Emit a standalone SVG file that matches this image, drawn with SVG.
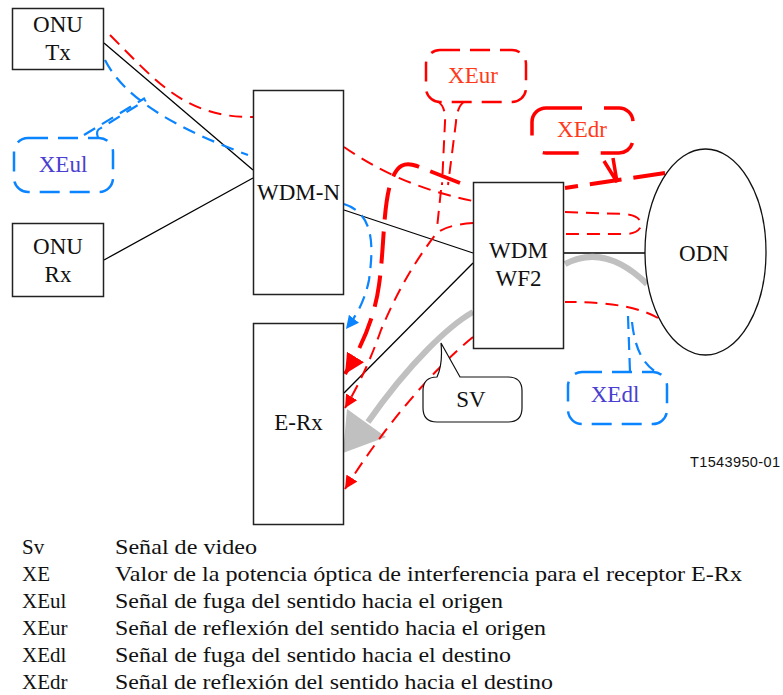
<svg xmlns="http://www.w3.org/2000/svg" width="783" height="695" viewBox="0 0 783 695">
<style>
.box{fill:#fff;stroke:#222;stroke-width:1.5}
.lbl{font-family:"Liberation Serif","Times New Roman",serif;font-size:23px;fill:#111;text-anchor:middle}
.clr{font-family:"Liberation Serif","Times New Roman",serif;font-size:23px;fill:#ff3a1a;text-anchor:middle}
.clb{font-family:"Liberation Serif","Times New Roman",serif;font-size:23px;fill:#4a3fd0;text-anchor:middle}
.leg{font-family:"Liberation Serif","Times New Roman",serif;font-size:21px;fill:#111}
.blk{fill:none;stroke:#000;stroke-width:1.3}
.rd{fill:none;stroke:#f00;stroke-width:2;stroke-dasharray:13 8}
.rdk{fill:none;stroke:#f00;stroke-width:4;stroke-dasharray:32 12}
.bd{fill:none;stroke:#0a84ff;stroke-width:2.2;stroke-dasharray:13 8}
.bcall{fill:#fff;stroke:#0a84ff;stroke-width:2.5;stroke-dasharray:20 10}
.rcall{fill:#fff;stroke:#f00;stroke-width:2.5;stroke-dasharray:20 10}
</style>
<defs>
<marker id="ar" viewBox="0 0 10 10" refX="10" refY="5" markerWidth="13" markerHeight="13" markerUnits="userSpaceOnUse" orient="auto"><path d="M0,0 L10,5 L0,10 z" fill="#f00"/></marker>
<marker id="arK" viewBox="0 0 10 10" refX="10" refY="5" markerWidth="20" markerHeight="20" markerUnits="userSpaceOnUse" orient="auto"><path d="M0,0 L10,5 L0,10 z" fill="#f00"/></marker>
<marker id="ab" viewBox="0 0 10 10" refX="10" refY="5" markerWidth="13" markerHeight="13" markerUnits="userSpaceOnUse" orient="auto"><path d="M0,0 L10,5 L0,10 z" fill="#0a84ff"/></marker>
</defs>

<g id="connectors">
  <!-- fibre links -->
  <path class="blk" d="M104,43 L253,170"/>
  <path class="blk" d="M104,260 L253,178"/>
  <path class="blk" d="M344,210 L473,253"/>
  <path class="blk" d="M473,263 L344,393"/>
  <path class="blk" d="M564,253 L645,253"/>
  <!-- video signal (grey) -->
  <path d="M565,264 Q605,243 647,284" fill="none" stroke="#c0c0c0" stroke-width="6"/>
  <path d="M473,312 C450,325 410,362 368,422" fill="none" stroke="#c0c0c0" stroke-width="6"/>
  <polygon points="347,409 386,437 343,453" fill="#c0c0c0"/>
  <!-- red thin paths -->
  <path class="rd" d="M110,35 C155,80 185,118 253,117"/>
  <path class="rd" d="M344,147 C380,172 420,190 473,201"/>
  <path class="rd" d="M565,212 L625,214 Q644,216 640,228 Q636,234 624,234 L565,234"/>
  <path class="rd" d="M473,223 Q445,225 436,234 Q404,275 381,330 Q366,373 345,408" marker-end="url(#ar)"/>
  <path class="rd" d="M658,318 C640,308 615,302 565,302"/>
  <path class="rd" d="M473,337 C430,372 382,430 345,489" marker-end="url(#ar)"/>
  <!-- red thick reflection path -->
  <path class="rdk" d="M665,173 L565,188" stroke-dasharray="60 8 100"/>
  <path class="rdk" d="M460,183 L417,166 C400,160 395,170 390,185 C383,210 384,250 379,285 C375,315 363,345 345,374" marker-end="url(#arK)"/>
  <!-- blue leak path -->
  <path class="bd" d="M105,60 C125,100 180,130 248,155"/>
  <path class="bd" d="M344,204 C376,214 373,250 369,280 C365,300 357,315 346,329" marker-end="url(#ab)"/>
</g>

<g id="onu-tx">
  <rect class="box" x="12.5" y="8.5" width="91" height="61"/>
  <text class="lbl" x="58" y="32">ONU</text>
  <text class="lbl" x="58" y="60">Tx</text>
</g>
<g id="onu-rx">
  <rect class="box" x="12.5" y="223.5" width="91" height="73"/>
  <text class="lbl" x="58" y="254">ONU</text>
  <text class="lbl" x="58" y="282">Rx</text>
</g>
<g id="wdm-n">
  <rect class="box" x="253.5" y="90.5" width="90" height="204"/>
  <text class="lbl" x="298.5" y="200">WDM-N</text>
</g>
<g id="e-rx">
  <rect class="box" x="253.5" y="323.5" width="90" height="201"/>
  <text class="lbl" x="298.5" y="430">E-Rx</text>
</g>
<g id="wdm-wf2">
  <rect class="box" x="473.5" y="182.5" width="90" height="166"/>
  <text class="lbl" x="518.5" y="258">WDM</text>
  <text class="lbl" x="518.5" y="286">WF2</text>
</g>
<g id="odn">
  <ellipse cx="705.5" cy="252" rx="60.5" ry="103" fill="#fff" stroke="#111" stroke-width="1.3"/>
  <text class="lbl" x="704" y="261">ODN</text>
</g>

<g id="callout-sv">
  <path d="M437,377 Q443,364 441,343 L460,377 L508,377 Q522,377 522,391 L522,408 Q522,422 508,422 L437,422 Q423,422 423,408 L423,391 Q423,377 437,377 Z" fill="#fff" stroke="#111" stroke-width="1.2"/>
  <text class="lbl" x="471" y="407">SV</text>
</g>
<g id="callout-xeul">
  <path class="bd" d="M84,135 L145,98 M98,138 Q95,130 101,128 L146,100"/>
  <rect class="bcall" x="14" y="138" width="99" height="54" rx="14"/>
  <text class="clb" x="63" y="172">XEul</text>
</g>
<g id="callout-xedl">
  <path class="bd" d="M628,316 L630,372 M632,322 Q636,360 656,372"/>
  <rect class="bcall" x="568" y="372" width="99" height="52" rx="14"/>
  <text class="clb" x="615" y="402">XEdl</text>
</g>
<g id="callout-xeur">
  <path class="rd" d="M437,101 Q446,106 445,122 L442,185 M465,101 Q457,106 456,122 L448,185 M441,190 L437,228"/>
  <rect class="rcall" x="426" y="50" width="100" height="52" rx="14"/>
  <text class="clr" x="473" y="83">XEur</text>
</g>
<g id="callout-xedr">
  <path d="M604,161 L617,182 L613,158" fill="none" stroke="#f00" stroke-width="3.5"/>
  <rect x="532" y="108" width="101" height="45" rx="14" fill="#fff" stroke="#f00" stroke-width="3.5" stroke-dasharray="36 22"/>
  <text class="clr" x="582" y="137">XEdr</text>
</g>

<text x="690" y="467" font-family="Liberation Sans, Arial, sans-serif" font-size="14.5" fill="#111" textLength="90">T1543950-01</text>

<g id="legend">
  <text class="leg" x="22" y="554">Sv</text>
  <text class="leg" x="115" y="554" textLength="142" lengthAdjust="spacingAndGlyphs">Señal de video</text>
  <text class="leg" x="22" y="581">XE</text>
  <text class="leg" x="115" y="581" textLength="627" lengthAdjust="spacingAndGlyphs">Valor de la potencia óptica de interferencia para el receptor E-Rx</text>
  <text class="leg" x="22" y="608">XEul</text>
  <text class="leg" x="115" y="608" textLength="388" lengthAdjust="spacingAndGlyphs">Señal de fuga del sentido hacia el origen</text>
  <text class="leg" x="22" y="635">XEur</text>
  <text class="leg" x="115" y="635" textLength="431" lengthAdjust="spacingAndGlyphs">Señal de reflexión del sentido hacia el origen</text>
  <text class="leg" x="22" y="662">XEdl</text>
  <text class="leg" x="115" y="662" textLength="396" lengthAdjust="spacingAndGlyphs">Señal de fuga del sentido hacia el destino</text>
  <text class="leg" x="22" y="689">XEdr</text>
  <text class="leg" x="115" y="689" textLength="438" lengthAdjust="spacingAndGlyphs">Señal de reflexión del sentido hacia el destino</text>
</g>
</svg>
